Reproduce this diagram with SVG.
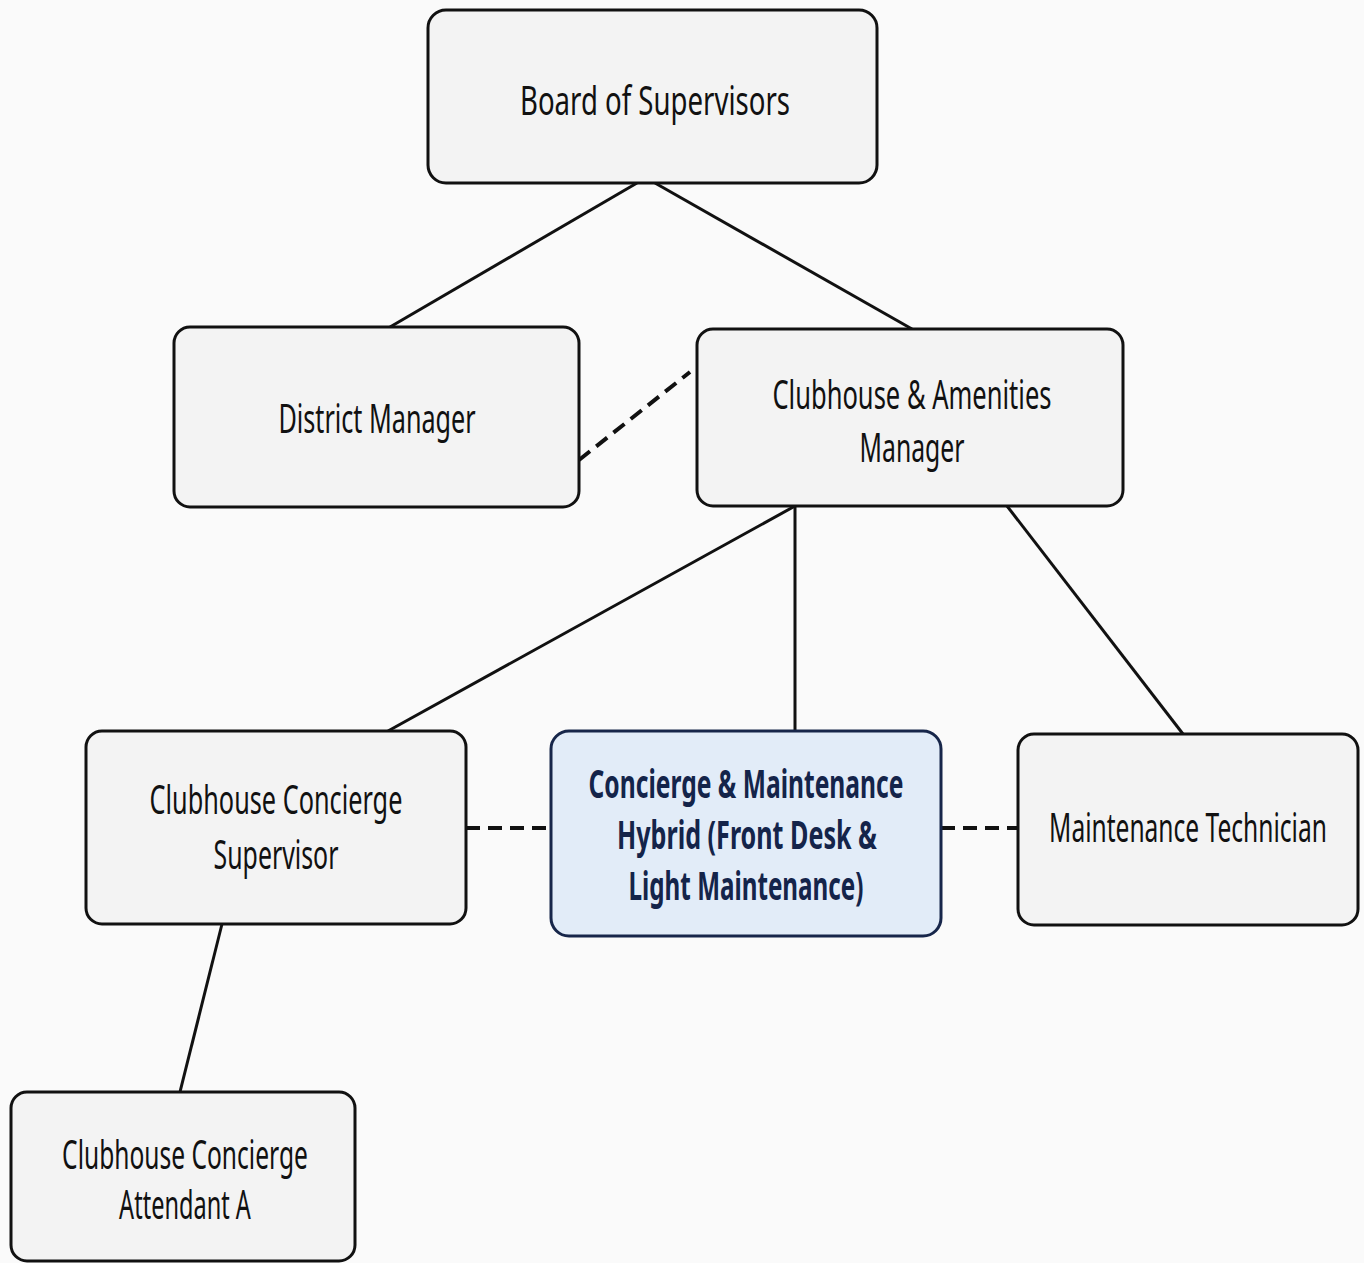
<svg xmlns="http://www.w3.org/2000/svg" width="1364" height="1263" viewBox="0 0 1364 1263">
<style>
.box{fill:#f3f3f3;stroke:#111;stroke-width:3}
.hl{fill:#e2ecf8;stroke:#17264a;stroke-width:3}
.t{font-family:"Noto Sans","Open Sans",sans-serif;font-size:40px;fill:#111;text-anchor:middle}
.tb{font-family:"Noto Sans","Open Sans",sans-serif;font-size:40px;font-weight:bold;fill:#14244a;text-anchor:middle}
.c{stroke:#111;stroke-width:3;fill:none}
.d{stroke:#111;stroke-width:4;fill:none;stroke-dasharray:14 8}
</style>
<rect width="1364" height="1263" fill="#fafafa"/>
<g id="connectors">
<line class="c" x1="637" y1="183" x2="390" y2="327"/>
<line class="c" x1="655" y1="183" x2="912" y2="329"/>
<line class="d" x1="579" y1="460" x2="690" y2="372"/>
<line class="c" x1="795" y1="506" x2="795" y2="731"/>
<line class="c" x1="795" y1="506" x2="388" y2="731"/>
<line class="c" x1="1007" y1="506" x2="1183" y2="734"/>
<line class="d" x1="466" y1="828" x2="551" y2="828"/>
<line class="d" x1="941" y1="828" x2="1018" y2="828"/>
<line class="c" x1="222" y1="924" x2="180" y2="1092"/>
</g>
<g id="board">
<rect class="box" x="428" y="10" width="449" height="173" rx="18"/>
<text class="t" transform="translate(655 115) scale(0.64 1)" x="0" y="0" textLength="422" lengthAdjust="spacingAndGlyphs">Board of Supervisors</text>
</g>
<g id="district">
<rect class="box" x="174" y="327" width="405" height="180" rx="16"/>
<text class="t" transform="translate(377 433) scale(0.64 1)" x="0" y="0" textLength="308" lengthAdjust="spacingAndGlyphs">District Manager</text>
</g>
<g id="amenities">
<rect class="box" x="697" y="329" width="426" height="177" rx="16"/>
<text class="t" transform="translate(912 409) scale(0.64 1)" x="0" y="0" textLength="436" lengthAdjust="spacingAndGlyphs">Clubhouse &amp; Amenities</text>
<text class="t" transform="translate(912 462) scale(0.64 1)" x="0" y="0" textLength="164" lengthAdjust="spacingAndGlyphs">Manager</text>
</g>
<g id="supervisor">
<rect class="box" x="86" y="731" width="380" height="193" rx="16"/>
<text class="t" transform="translate(276 814) scale(0.64 1)" x="0" y="0" textLength="395" lengthAdjust="spacingAndGlyphs">Clubhouse Concierge</text>
<text class="t" transform="translate(276 869) scale(0.64 1)" x="0" y="0" textLength="195" lengthAdjust="spacingAndGlyphs">Supervisor</text>
</g>
<g id="hybrid">
<rect class="hl" x="551" y="731" width="390" height="205" rx="18"/>
<text class="tb" transform="translate(746 798) scale(0.64 1)" x="0" y="0" textLength="492" lengthAdjust="spacingAndGlyphs">Concierge &amp; Maintenance</text>
<text class="tb" transform="translate(747 849) scale(0.64 1)" x="0" y="0" textLength="406" lengthAdjust="spacingAndGlyphs">Hybrid (Front Desk &amp;</text>
<text class="tb" transform="translate(746 900) scale(0.64 1)" x="0" y="0" textLength="367" lengthAdjust="spacingAndGlyphs">Light Maintenance)</text>
</g>
<g id="technician">
<rect class="box" x="1018" y="734" width="340" height="191" rx="16"/>
<text class="t" transform="translate(1188 842) scale(0.64 1)" x="0" y="0" textLength="434" lengthAdjust="spacingAndGlyphs">Maintenance Technician</text>
</g>
<g id="attendant">
<rect class="box" x="11" y="1092" width="344" height="169" rx="16"/>
<text class="t" transform="translate(185 1169) scale(0.64 1)" x="0" y="0" textLength="384" lengthAdjust="spacingAndGlyphs">Clubhouse Concierge</text>
<text class="t" transform="translate(185 1219) scale(0.64 1)" x="0" y="0" textLength="206" lengthAdjust="spacingAndGlyphs">Attendant A</text>
</g>
</svg>
